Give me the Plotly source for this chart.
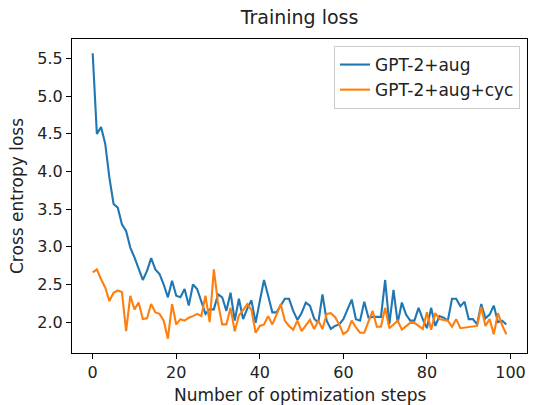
import plotly.graph_objects as go

steps = list(range(100))

loss_aug = [
    5.57, 4.50, 4.59, 4.37, 3.92, 3.57, 3.52, 3.30, 3.21, 2.99,
    2.86, 2.72, 2.56, 2.68, 2.85, 2.70, 2.64, 2.50, 2.33, 2.55,
    2.35, 2.33, 2.44, 2.22, 2.50, 2.44, 2.28, 2.11, 2.17, 2.17,
    2.37, 2.33, 2.15, 2.39, 2.02, 2.31, 2.04, 2.18, 2.29, 1.99,
    2.28, 2.56, 2.35, 2.13, 2.13, 2.22, 2.31, 2.31, 2.15, 2.03,
    2.12, 2.26, 2.22, 2.05, 1.99, 2.37, 2.02, 1.91, 1.95, 1.97,
    2.04, 2.17, 2.30, 2.04, 2.02, 2.27, 2.06, 2.07, 2.07, 2.07,
    2.56, 1.97, 2.43, 1.99, 2.26, 2.10, 2.02, 2.02, 2.19, 2.04,
    1.92, 2.19, 1.95, 2.08, 2.06, 2.02, 2.31, 2.31, 2.21, 2.27,
    2.04, 2.04, 1.97, 2.24, 2.05, 2.10, 2.22, 2.00, 2.02, 1.97,
]

loss_aug_cyc = [
    2.66, 2.70, 2.57, 2.46, 2.28, 2.39, 2.42, 2.40, 1.88, 2.35,
    2.17, 2.26, 2.04, 2.05, 2.24, 2.13, 2.11, 2.02, 1.78, 2.24,
    1.97, 2.04, 2.02, 2.06, 2.08, 2.11, 2.08, 2.35, 2.00, 2.70,
    2.25, 1.97, 1.97, 2.19, 1.88, 2.09, 2.16, 2.24, 2.16, 1.86,
    1.95, 1.97, 2.08, 1.97, 2.10, 2.24, 2.02, 1.95, 1.90, 2.02,
    1.88, 1.95, 2.03, 1.91, 2.02, 1.91, 2.11, 2.12, 2.07, 1.97,
    1.84, 1.88, 2.02, 1.93, 1.86, 1.86, 2.00, 2.15, 1.94, 1.94,
    2.19, 1.92, 1.97, 2.02, 1.90, 1.94, 1.99, 1.99, 1.95, 1.91,
    2.13, 1.90, 2.12, 2.04, 2.03, 2.02, 1.94, 2.04, 1.92, 1.93,
    1.93, 1.94, 1.95, 2.20, 1.95, 2.04, 1.84, 2.12, 1.96, 1.84,
]

series_names = ["GPT-2+aug", "GPT-2+aug+cyc"]
series_colors = ["#1f77b4", "#ff7f0e"]
x_ticks = [0, 20, 40, 60, 80, 100]
y_ticks = [2.0, 2.5, 3.0, 3.5, 4.0, 4.5, 5.0, 5.5]

FONT = "DejaVu Sans"
TXT = "#222222"
W, H = 556, 405
L, R, T, B = 72, 29, 39, 52
PW, PH = W - L - R, H - T - B

fig = go.Figure()
for name, ys, col in zip(series_names, [loss_aug, loss_aug_cyc], series_colors):
    fig.add_trace(go.Scatter(x=steps, y=ys, mode="lines", name=name,
                             line=dict(color=col, width=2.1)))

# matplotlib-like 5% autoscale margins
xmin, xmax = min(steps), max(steps)
allv = loss_aug + loss_aug_cyc
ymin, ymax = min(allv), max(allv)
xm = (xmax - xmin) * 0.05
ym = (ymax - ymin) * 0.05

axis_common = dict(showgrid=False, zeroline=False, showline=True, mirror=True,
                   linecolor="black", linewidth=1, ticks="outside", ticklen=5,
                   tickwidth=1, tickcolor="black",
                   tickfont=dict(family=FONT, size=16, color=TXT))

fig.update_xaxes(range=[xmin - xm, xmax + xm], tickvals=x_ticks,
                 ticktext=[str(v) for v in x_ticks], **axis_common)
fig.update_yaxes(range=[ymin - ym, ymax + ym], tickvals=y_ticks,
                 ticktext=[f"{v:.1f}" for v in y_ticks], **axis_common)

fig.update_layout(
    width=W, height=H,
    margin=dict(l=L, r=R, t=T, b=B),
    paper_bgcolor="white", plot_bgcolor="white",
    font=dict(family=FONT, color=TXT),
    title=dict(text="Training loss", x=(L + PW / 2) / W, xanchor="center",
               y=1 - 17 / H, yanchor="middle", yref="container",
               font=dict(family=FONT, size=19, color=TXT)),
    showlegend=True,
    legend=dict(x=1 - 7 / PW, xanchor="right", y=1 - 7 / PH, yanchor="top",
                bgcolor="rgba(255,255,255,0.8)", bordercolor="#cccccc", borderwidth=1,
                font=dict(family=FONT, size=17, color=TXT),
                itemwidth=30),
    annotations=[
        dict(text="Number of optimization steps", xref="paper", yref="paper",
             x=0.5, y=-(395 - (H - B)) / PH, xanchor="center", yanchor="middle",
             showarrow=False, font=dict(family=FONT, size=17, color=TXT)),
        dict(text="Cross entropy loss", xref="paper", yref="paper",
             x=-(L - 17) / PW, y=0.5, xanchor="center", yanchor="middle",
             textangle=-90, showarrow=False, font=dict(family=FONT, size=17, color=TXT)),
    ],
)

fig.write_html("out.html", config={"displayModeBar": False},
               post_script="document.body.style.margin='0';document.body.style.overflow='hidden';")
